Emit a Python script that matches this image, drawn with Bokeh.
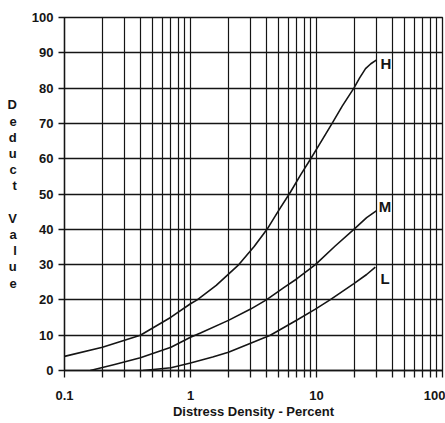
from bokeh.plotting import figure
from bokeh.models import Range1d, FixedTicker
from bokeh.core.properties import value
from bokeh.embed import file_html
from bokeh.resources import INLINE

# Data
x_ticks = [0.1, 1, 10, 100]
x_tick_labels = ["0.1", "1", "10", "100"]
y_ticks = [0, 10, 20, 30, 40, 50, 60, 70, 80, 90, 100]

h_x = [0.1, 0.2, 0.4, 0.7, 1, 1.13, 1.6, 2.42, 3.2, 4.05, 5, 6.2, 7.5, 9,
       11, 13.3, 16, 19.8, 22, 24.5, 27, 30]
h_y = [4.0, 6.6, 10, 15.1, 18.9, 20, 24.1, 30, 35.1, 40, 45.3, 50.5, 55.5, 60,
       65.1, 70, 74.9, 80, 82.9, 85.5, 86.9, 88]

m_x = [0.16, 0.25, 0.4, 0.7, 1, 1.2, 2, 3, 4, 5.5, 7, 9.8, 14, 19.8, 25, 30]
m_y = [0, 1.7, 3.6, 6.6, 9.4, 10.6, 14.2, 17.4, 20, 23.5, 26.0, 30, 35.2,
       40, 43.3, 45.3]

l_x = [0.42, 0.7, 1, 1.5, 2, 3, 4.3, 7, 9.8, 12.8, 19.8, 25, 29.3]
l_y = [0, 0.8, 2.1, 3.8, 5.2, 7.7, 10, 14.3, 17.4, 20, 24.6, 27.2, 29.3]

curve_names = ["H", "M", "L"]
name_x = [35.5, 35.0, 35.0]
name_y = [86.9, 46.5, 26.0]

minor = []
for d in [0.1, 1, 10]:
    for k in range(2, 10):
        minor.append(round(d * k, 4))

FONT = "Liberation Sans"
INK = "#151515"

p = figure(width=445, height=423, x_axis_type="log",
           x_range=Range1d(0.1, 100), y_range=Range1d(0, 100),
           output_backend="svg", toolbar_location=None,
           min_border_left=64, min_border_right=3, min_border_top=17,
           min_border_bottom=53)
p.background_fill_color = "white"
p.outline_line_color = INK
p.outline_line_width = 1.3

p.xaxis.ticker = FixedTicker(ticks=x_ticks, minor_ticks=minor)
p.xaxis.major_label_overrides = {t: s for t, s in zip(x_ticks, x_tick_labels)}
p.yaxis.ticker = FixedTicker(ticks=y_ticks)

for ax in (p.xaxis, p.yaxis):
    ax.axis_line_color = INK
    ax.axis_line_width = 1.3
    ax.major_tick_line_color = INK
    ax.major_tick_line_width = 1.3
    ax.major_tick_in = 0
    ax.major_label_text_font = FONT
    ax.major_label_text_font_style = "bold"
    ax.major_label_text_font_size = "13px"
    ax.major_label_text_color = INK
    ax.axis_label_text_font = FONT
    ax.axis_label_text_font_style = "bold"
    ax.axis_label_text_color = INK

p.xaxis.major_tick_out = 7
p.xaxis.minor_tick_out = 7
p.xaxis.minor_tick_in = 0
p.xaxis.minor_tick_line_color = INK
p.xaxis.minor_tick_line_width = 1.3
p.xaxis.major_label_standoff = 13
p.xaxis.axis_label = "Distress Density - Percent"
p.xaxis.axis_label_text_font_size = "13px"
p.xaxis.axis_label_standoff = 1

p.yaxis.major_tick_out = 6
p.yaxis.minor_tick_line_color = None
p.yaxis.major_label_standoff = 5
p.yaxis.axis_label = "D\ne\nd\nu\nc\nt\n\nV\na\nl\nu\ne"
p.yaxis.axis_label_orientation = "horizontal"
p.yaxis.axis_label_text_font_size = "13px"
p.yaxis.axis_label_text_line_height = 1.08
p.yaxis.axis_label_standoff = 12

p.xgrid.ticker = FixedTicker(ticks=x_ticks, minor_ticks=minor)
p.xgrid.grid_line_color = INK
p.xgrid.grid_line_width = 1.2
p.xgrid.minor_grid_line_color = INK
p.xgrid.minor_grid_line_width = 1.2
p.ygrid.ticker = FixedTicker(ticks=y_ticks)
p.ygrid.grid_line_color = INK
p.ygrid.grid_line_width = 1.3

for xs, ys in [(h_x, h_y), (m_x, m_y), (l_x, l_y)]:
    p.line(xs, ys, line_color=INK, line_width=1.6, line_join="round")

p.text(x=name_x, y=name_y, text=curve_names, text_font=value(FONT),
       text_font_style="bold", text_font_size="15px", text_color=INK,
       text_align="center", text_baseline="middle",
       background_fill_color="white")

open("out.html", "w").write(file_html(p, INLINE))
